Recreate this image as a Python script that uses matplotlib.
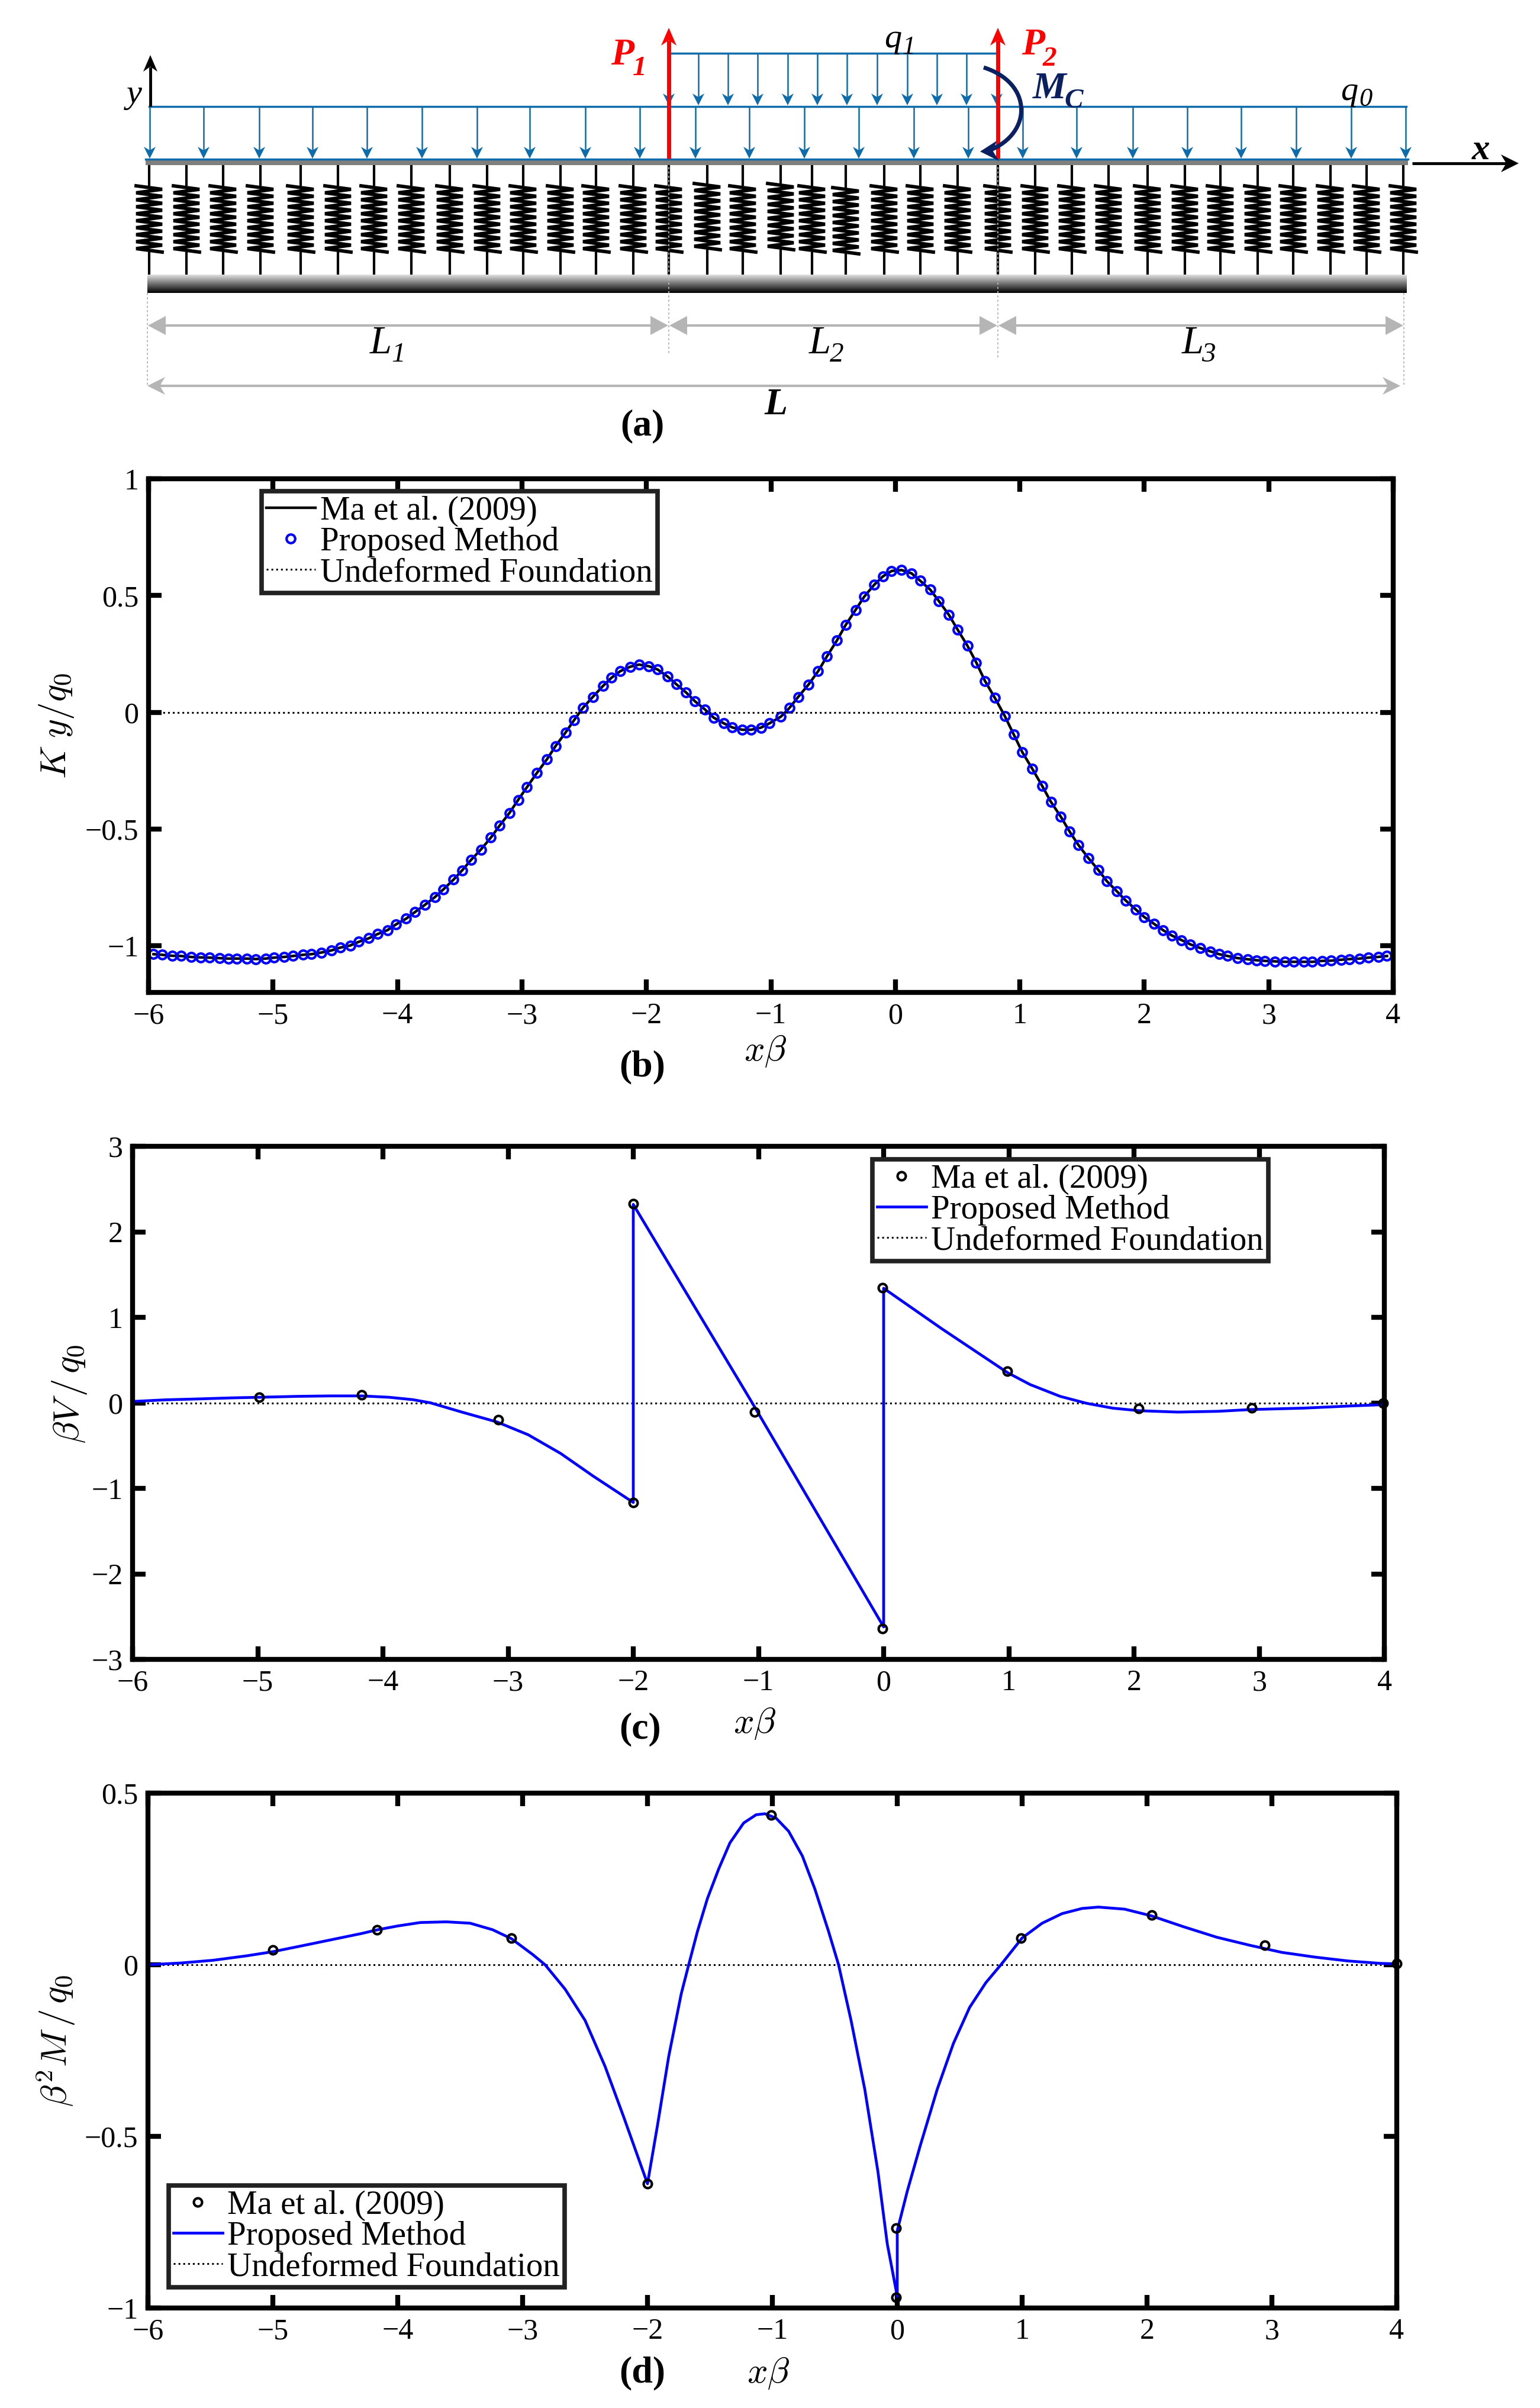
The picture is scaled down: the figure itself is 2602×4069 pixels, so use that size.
import numpy as np
import matplotlib
matplotlib.use("Agg")
import matplotlib.pyplot as plt
from matplotlib.patches import Polygon, PathPatch
from matplotlib.path import Path

plt.rcParams["font.family"] = ["Liberation Serif", "DejaVu Serif"]
plt.rcParams["mathtext.fontset"] = "cm"

W, H = 2602, 4069

xticks = [-6, -5, -4, -3, -2, -1, 0, 1, 2, 3, 4]
xticklabels = ["\u22126", "\u22125", "\u22124", "\u22123", "\u22122", "\u22121", "0", "1", "2", "3", "4"]

# panel b
b_x = [-5.96, -5.89, -5.81, -5.74, -5.66, -5.58, -5.51, -5.43, -5.36, -5.29, -5.21, -5.14, -5.06, -4.99, -4.91, -4.84,
       -4.76, -4.69, -4.61, -4.53, -4.46, -4.38, -4.31, -4.23, -4.16, -4.08, -4.01, -3.93, -3.86, -3.78, -3.70, -3.63,
       -3.55, -3.48, -3.41, -3.33, -3.25, -3.18, -3.10, -3.03, -2.96, -2.88, -2.80, -2.73, -2.65, -2.58, -2.51, -2.43,
       -2.35, -2.28, -2.21, -2.13, -2.06, -1.98, -1.91, -1.83, -1.76, -1.68, -1.61, -1.53, -1.46, -1.38, -1.31, -1.23,
       -1.16, -1.08, -1.01, -0.92, -0.85, -0.78, -0.70, -0.62, -0.55, -0.47, -0.40, -0.32, -0.25, -0.17, -0.10, -0.03,
       0.05, 0.13, 0.20, 0.28, 0.35, 0.43, 0.50, 0.58, 0.65, 0.72, 0.80, 0.88, 0.95, 1.02, 1.10, 1.18,
       1.25, 1.33, 1.40, 1.47, 1.55, 1.63, 1.70, 1.78, 1.85, 1.93, 2.00, 2.08, 2.15, 2.22, 2.30, 2.37,
       2.45, 2.53, 2.60, 2.67, 2.75, 2.83, 2.90, 2.97, 3.05, 3.13, 3.20, 3.28, 3.35, 3.43, 3.50, 3.58,
       3.65, 3.73, 3.80, 3.88, 3.95]
b_y = [-1.036, -1.039, -1.043, -1.044, -1.048, -1.050, -1.051, -1.053, -1.055, -1.055, -1.055, -1.057, -1.055, -1.051,
       -1.048, -1.044, -1.039, -1.036, -1.029, -1.020, -1.008, -0.999, -0.983, -0.968, -0.950, -0.933, -0.908, -0.884,
       -0.856, -0.825, -0.792, -0.758, -0.717, -0.677, -0.633, -0.588, -0.537, -0.486, -0.431, -0.375, -0.321, -0.260,
       -0.202, -0.145, -0.087, -0.033, 0.019, 0.066, 0.112, 0.148, 0.176, 0.195, 0.204, 0.197, 0.183, 0.153, 0.120,
       0.084, 0.047, 0.012, -0.023, -0.047, -0.065, -0.075, -0.075, -0.066, -0.047,
       -0.019, 0.019, 0.066, 0.117, 0.176, 0.239, 0.307, 0.373, 0.438, 0.495, 0.546, 0.582, 0.605, 0.609, 0.595, 0.563,
       0.525, 0.476, 0.417, 0.354, 0.284, 0.213, 0.134, 0.061, -0.017, -0.094, -0.171, -0.242, -0.316, -0.384, -0.448,
       -0.511, -0.568, -0.624, -0.675, -0.724, -0.767, -0.806, -0.844, -0.877, -0.907, -0.933, -0.956, -0.976, -0.994,
       -1.010, -1.024, -1.036, -1.044, -1.053, -1.058, -1.062, -1.065, -1.067, -1.069, -1.069, -1.069, -1.069, -1.065,
       -1.064, -1.060, -1.057, -1.055, -1.051, -1.048, -1.044]

# panel c
c_x = [-6, -5.74, -5.47, -5.21, -4.99, -4.68, -4.42, -4.17, -3.95, -3.76, -3.62, -3.37, -3.09, -2.84, -2.58, -2.32, -2,
       -2, -1.05, 0,
       0, 0.46, 0.99, 1.17, 1.41, 1.62, 1.83, 2.04, 2.35, 2.67, 2.94, 3.35, 3.75, 4]
c_y = [0.016, 0.035, 0.046, 0.058, 0.065, 0.076, 0.081, 0.081, 0.065, 0.037, 0.0, -0.108, -0.223, -0.373, -0.592, -0.857,
       -1.165, 2.32, 0.0, -2.62,
       1.34, 0.871, 0.353, 0.214, 0.076, -0.005, -0.062, -0.092, -0.108, -0.099, -0.078, -0.062, -0.035, -0.021]
c_ma_x = [-4.99, -4.17, -3.08, -2, -2, -1.03, -0.01, -0.01, 0.99, 2.04, 2.94, 3.99]
c_ma_y = [0.069, 0.092, -0.196, -1.164, 2.33, -0.105, -2.64, 1.348, 0.369, -0.065, -0.062, 0.0]

# panel d
d_x = [-6, -5.74, -5.48, -5.21, -5, -4.77, -4.53, -4.29, -4.16, -4, -3.82, -3.61, -3.42, -3.24, -3.09, -2.92, -2.82,
       -2.66, -2.5, -2.34, -2.19, -2, -1.92, -1.83, -1.73, -1.67, -1.6, -1.52, -1.43, -1.34, -1.23, -1.13, -1.06, -0.97,
       -0.87, -0.76, -0.66, -0.55, -0.47, -0.37, -0.26, -0.155, -0.08, 0,
       0, 0.08, 0.185, 0.32, 0.45, 0.58, 0.71, 0.83, 1, 1.16, 1.32, 1.48, 1.61, 1.82, 2.03, 2.29, 2.56, 2.82, 3.08,
       3.35, 3.61, 3.87, 4]
d_y = [0.0, 0.005, 0.013, 0.026, 0.038, 0.055, 0.073, 0.091, 0.102, 0.113, 0.123, 0.125, 0.121, 0.102, 0.076, 0.03, 0.0,
       -0.071, -0.162, -0.296, -0.444, -0.638, -0.468, -0.267, -0.085, 0.0, 0.097, 0.193, 0.279, 0.355, 0.413, 0.437,
       0.44, 0.427, 0.389, 0.317, 0.221, 0.097, 0.0, -0.162, -0.363, -0.602, -0.813, -0.966,
       -0.775, -0.66, -0.526, -0.363, -0.229, -0.124, -0.052, 0.0, 0.078, 0.121, 0.149, 0.164, 0.168, 0.162, 0.143,
       0.111, 0.08, 0.057, 0.036, 0.022, 0.011, 0.004, 0.002]
d_ma_x = [-5, -4.165, -3.09, -2, -1.01, -0.01, -0.01, 0.99, 2.04, 2.945, 4]
d_ma_y = [0.043, 0.102, 0.078, -0.638, 0.437, -0.767, -0.969, 0.078, 0.144, 0.057, 0.004]

# panel a, beam sketch (pixels)
spring_x = [252, 315, 377, 440, 508, 571, 632, 695, 760, 823, 884, 947, 1007, 1070, 1130, 1195, 1255, 1319, 1372,
            1429, 1494, 1555, 1618, 1686, 1749, 1811, 1873, 1939, 2002, 2062, 2125, 2185, 2248, 2309, 2371]
spring_shift = [0, 0, 0, 0, 0, 0, 0, 0, 0, 0, 0, 0, 0, 0, 0, -4, 0, -4, 0,
                3, 0, 0, 0, 0, 0, 0, 0, 0, 0, 0, 0, 0, 0, 0, 0]
load_low_x = [253, 344, 438, 528, 620, 713, 806, 895, 989, 1081, 1175, 1266, 1359,
              1451, 1544, 1636, 1728, 1819, 1914, 2006, 2097, 2190, 2283, 2375]
load_up_x = [1130, 1180, 1230, 1280, 1331, 1381, 1431, 1482, 1533, 1583, 1633, 1684]
dim_x = [249, 1130, 1686, 2372]

sketch_labels = [
    ("y", 227, 160, "black", "normal", 42), ("q", 1509, 66, "black", "normal", 42), ("1", 1536, 80, "black", "normal", 32),
    ("q", 2280, 155, "black", "normal", 42), ("0", 2307, 168, "black", "normal", 32),
    ("P", 1052, 94, "red", "bold", 46), ("1", 1081, 116, "red", "bold", 34),
    ("P", 1746, 77, "red", "bold", 46), ("2", 1773, 100, "red", "bold", 34),
    ("M", 1773, 151, "#0a2060", "bold", 46), ("C", 1814, 171, "#0a2060", "bold", 34),
    ("L", 643, 580, "black", "normal", 48), ("1", 673, 600, "black", "normal", 34),
    ("L", 1385, 580, "black", "normal", 48), ("2", 1414, 600, "black", "normal", 34),
    ("L", 2015, 580, "black", "normal", 48), ("3", 2042, 600, "black", "normal", 34),
    ("L", 1311, 685, "black", "bold", 46), ("x", 2502, 254, "black", "bold", 44),
]
blue = "#0f6cab"
gray = "#b5b5b5"
navy = "#0a2060"


def px_axes(left, right, top, bottom):
    return fig.add_axes([left / W, 1 - bottom / H, (right - left) / W, (bottom - top) / H])


def arrow(ax, x0, y0, x1, y1, color, lw, head_l, head_w, notch=0.7):
    # straight line with a stealth head at (x1, y1)
    d = np.array([x1 - x0, y1 - y0], dtype=float)
    d = d / np.hypot(*d)
    n = np.array([-d[1], d[0]])
    tip = np.array([x1, y1], dtype=float)
    back = tip - d * head_l
    ax.plot([x0, (tip - d * head_l * notch)[0]], [y0, (tip - d * head_l * notch)[1]], color=color, lw=lw,
            solid_capstyle="butt", zorder=4)
    ax.add_patch(Polygon([tip, back + n * head_w, tip - d * head_l * notch, back - n * head_w], closed=True,
                         fc=color, ec="none", zorder=4))


def triangle(ax, x_tip, y, x_back, half):
    ax.add_patch(Polygon([[x_tip, y], [x_back, y - half], [x_back, y + half]], closed=True, fc=gray, ec="none"))


def style_axes(ax, ylim, yticks, yticklabels):
    ax.set_xlim(-6, 4)
    ax.set_ylim(*ylim)
    ax.set_xticks(xticks)
    ax.set_xticklabels(xticklabels)
    ax.set_yticks(yticks)
    ax.set_yticklabels(yticklabels)
    ax.tick_params(direction="in", top=True, right=True, length=16, width=6, labelsize=36, pad=12)
    for s in ax.spines.values():
        s.set_linewidth(6)


def add_legend(ax, handles, labels, left, top):
    bb = ax.get_position()
    ax_x = (left / W - bb.x0) / bb.width
    ax_y = ((1 - top / H) - bb.y0) / bb.height
    leg = ax.legend(handles, labels, loc="upper left", bbox_to_anchor=(ax_x, ax_y), borderaxespad=0, fancybox=False,
                    framealpha=1, edgecolor="#222222", fontsize=41, handlelength=1.45, handletextpad=0.15,
                    labelspacing=0.0, borderpad=0.14, numpoints=1)
    leg.get_frame().set_linewidth(5.5)


fig = plt.figure(figsize=(W / 100, H / 100), dpi=100)

# sketch and panel captions live on one full figure axes in pixel units
sk = fig.add_axes([0, 0, 1, 1], zorder=0)
sk.set_xlim(0, W)
sk.set_ylim(H, 0)
sk.axis("off")

# foundation
grad = np.linspace(0.88, 0.0, 64).reshape(-1, 1)
sk.imshow(grad, extent=[249, 2377, 495, 464], aspect="auto", cmap="gray", vmin=0, vmax=1, zorder=1)
sk.set_xlim(0, W)
sk.set_ylim(H, 0)

# springs
zig_y = np.linspace(314, 426, 20)
for sx, ds in zip(spring_x, spring_shift):
    zig_x = sx + 22 * np.where(np.arange(20) % 2 == 0, -1, 1)
    sk.plot([sx, sx], [279, 314 + ds], color="black", lw=3, solid_capstyle="butt", zorder=2)
    sk.plot(zig_x, zig_y + ds, color="black", lw=4.2, solid_joinstyle="miter", zorder=2)
    sk.plot([sx, sx], [426 + ds, 464], color="black", lw=3, solid_capstyle="butt", zorder=2)

# beam
sk.fill_between([246, 2379], 269, 279, color="#7f7f7f", lw=0, zorder=3)
sk.plot([246, 2379], [269, 269], color=blue, lw=2.5, zorder=3)

# distributed loads
sk.plot([252, 2376], [180, 180], color=blue, lw=2.5, zorder=4)
sk.plot([1132, 1684], [90, 90], color=blue, lw=2.5, zorder=4)
for lx in load_low_x:
    arrow(sk, lx, 180, lx, 268, blue, 1.8, 20, 10)
for lx in load_up_x:
    arrow(sk, lx, 90, lx, 178, blue, 1.8, 20, 10)

# point forces, moment, coordinate axes
arrow(sk, 1130, 268, 1130, 47, "red", 5, 30, 13)
arrow(sk, 1686, 268, 1686, 47, "red", 5, 30, 13)
arrow(sk, 254, 180, 254, 93, "black", 3.5, 28, 12)
arrow(sk, 2386, 276, 2566, 276, "black", 3.5, 30, 15)
sk.add_patch(PathPatch(Path([(1662, 114), (1745, 140), (1745, 225), (1672, 254)],
                            [Path.MOVETO, Path.CURVE4, Path.CURVE4, Path.CURVE4]),
                       fc="none", ec=navy, lw=5, zorder=5))
sk.add_patch(Polygon([[1656, 256], [1684, 238], [1678, 256], [1688, 272]], closed=True, fc=navy, ec="none", zorder=5))

# dimension lines
sk.plot([dim_x[0], dim_x[0]], [495, 652], color=gray, lw=1.3, ls=(0, (2, 2)))
sk.plot([dim_x[1], dim_x[1]], [268, 600], color=gray, lw=1.3, ls=(0, (2, 2)))
sk.plot([dim_x[2], dim_x[2]], [268, 605], color=gray, lw=1.3, ls=(0, (2, 2)))
sk.plot([dim_x[3], dim_x[3]], [495, 650], color=gray, lw=1.3, ls=(0, (2, 2)))
for a, b in zip(dim_x[:-1], dim_x[1:]):
    sk.plot([a + 20, b - 20], [550, 550], color=gray, lw=3)
    triangle(sk, a + 1, 550, a + 31, 16)
    triangle(sk, b - 1, 550, b - 31, 16)
sk.plot([260, 2350], [652, 652], color=gray, lw=3)
arrow(sk, 2340, 652, 2366, 652, gray, 3, 30, 15)
arrow(sk, 275, 652, 249, 652, gray, 3, 30, 15)

for s, tx, ty, col, wt, fs in sketch_labels:
    sk.text(tx, ty, s, color=col, fontweight=wt, fontstyle="italic", fontsize=fs, ha="center", va="center", zorder=6)

for s, tx, ty in [("(a)", 1085, 720), ("(b)", 1085, 1803), ("(c)", 1082, 2922), ("(d)", 1085, 4010)]:
    sk.text(tx, ty, s, fontweight="bold", fontsize=46, ha="center", va="center")

legend_labels = ["Ma et al. (2009)", "Proposed Method", "Undeformed Foundation"]

# panel b
ax_b = px_axes(251, 2354, 809, 1677)
style_axes(ax_b, (-1.2, 1), [-1, -0.5, 0, 0.5, 1], ["\u22121", "\u22120.5", "0", "0.5", "1"])
l0, = ax_b.plot(b_x, b_y, color="black", lw=3.2)
l1, = ax_b.plot(b_x, b_y, ls="none", marker="o", ms=10.5, mfc="none", mec="#0000ff", mew=3)
l2, = ax_b.plot([-6, 4], [0, 0], color="black", ls=":", lw=2.2)
add_legend(ax_b, [l0, l1, l2], legend_labels, 442, 830)

# panel c
ax_c = px_axes(224, 2339, 1937, 2804)
style_axes(ax_c, (-3, 3), [-3, -2, -1, 0, 1, 2, 3], ["\u22123", "\u22122", "\u22121", "0", "1", "2", "3"])
l2, = ax_c.plot([-6, 4], [0, 0], color="black", ls=":", lw=2.2)
l1, = ax_c.plot(c_x, c_y, color="#0000ff", lw=3.4)
l0, = ax_c.plot(c_ma_x, c_ma_y, ls="none", marker="o", ms=10, mfc="none", mec="black", mew=3, clip_on=False)
add_legend(ax_c, [l0, l1, l2], legend_labels, 1474, 1959)

# panel d
ax_d = px_axes(250, 2360, 3030, 3900)
style_axes(ax_d, (-1, 0.5), [-1, -0.5, 0, 0.5], ["\u22121", "\u22120.5", "0", "0.5"])
l2, = ax_d.plot([-6, 4], [0, 0], color="black", ls=":", lw=2.2)
l1, = ax_d.plot(d_x, d_y, color="#0000ff", lw=3.4)
l0, = ax_d.plot(d_ma_x, d_ma_y, ls="none", marker="o", ms=10, mfc="none", mec="black", mew=3, clip_on=False)
add_legend(ax_d, [l0, l1, l2], legend_labels, 285, 3693)

# axis captions
for s, tx, ty, rot, fs in [(r"$x\beta$", 1293, 1777, 0, 44), (r"$x\beta$", 1275, 2912, 0, 44),
                           (r"$x\beta$", 1298, 4010, 0, 44), (r"$K\ y/q_0$", 96, 1226, 90, 44),
                           (r"$\beta V\,/\,q_0$", 117, 2355, 90, 44), (r"$\beta^2 M\,/\,q_0$", 94, 3448, 90, 44)]:
    sk.text(tx, ty, s, fontsize=fs, rotation=rot, ha="center", va="center")

fig.savefig("out.png", dpi=100)
